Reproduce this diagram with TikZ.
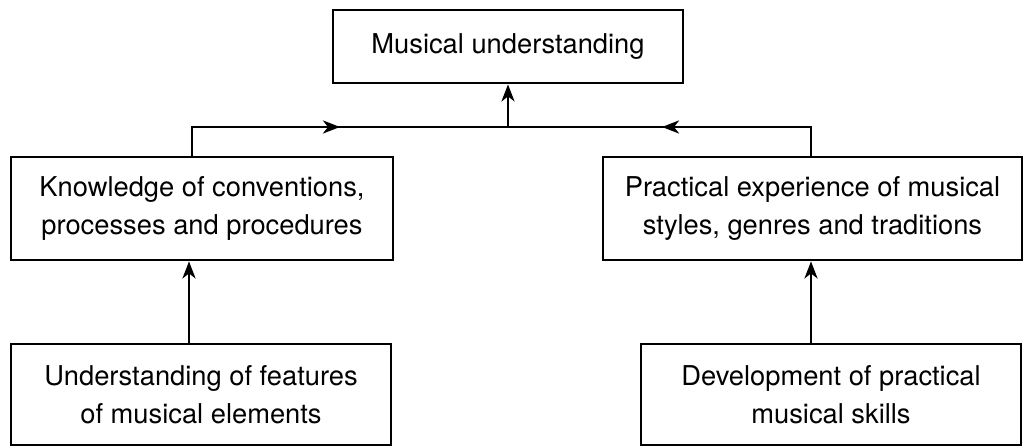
\documentclass[tikz,border=0pt]{standalone}
\usepackage{fontspec}
\setmainfont{TeX Gyre Heros}
\usetikzlibrary{arrows.meta}

\begin{document}
\begin{tikzpicture}[x=1pt,y=-1pt,
  box/.style={draw,line width=2.8pt,align=center,inner sep=0pt,font=\fontsize{27.3}{38}\selectfont},
  link/.style={line width=2.8pt},
  arr/.style={link,-{Stealth[length=17pt,width=13pt,inset=5pt]}}]
\useasboundingbox (0,0) rectangle (1024,446);

% Top box
\node[box,minimum width=350,minimum height=73] (mu) at (508,46.5) {Musical understanding};

% Middle boxes
\node[box,minimum width=382,minimum height=103] (kn) at (202,208.5) {Knowledge of conventions,\\processes and procedures};
\node[box,minimum width=419,minimum height=103] (pe) at (812.5,208.5) {Practical experience of musical\\styles, genres and traditions};

% Bottom boxes
\node[box,minimum width=380,minimum height=101] (uf) at (201,394.5) {Understanding of features\\of musical elements};
\node[box,minimum width=380,minimum height=101] (dp) at (831,394.5) {Development of practical\\musical skills};

% Joining line
\coordinate (jl) at (192,127);
\coordinate (jr) at (811,127);
\coordinate (jm) at (508,127);
\coordinate (tl) at (340,127);
\coordinate (tr) at (662,127);
\draw[link] (kn.north -| jl) -- (jl) -- (jr) -- (pe.north -| jr);
\draw[arr] (jl) -- (tl);
\draw[arr] (jr) -- (tr);
\draw[arr] (jm) -- (mu);

% Upward arrows
\draw[arr] ([xshift=-12pt]uf.north) -- ([xshift=-12pt]uf.north |- kn.south);
\draw[arr] ([xshift=-20pt]dp.north) -- ([xshift=-20pt]dp.north |- pe.south);
\end{tikzpicture}
\end{document}
